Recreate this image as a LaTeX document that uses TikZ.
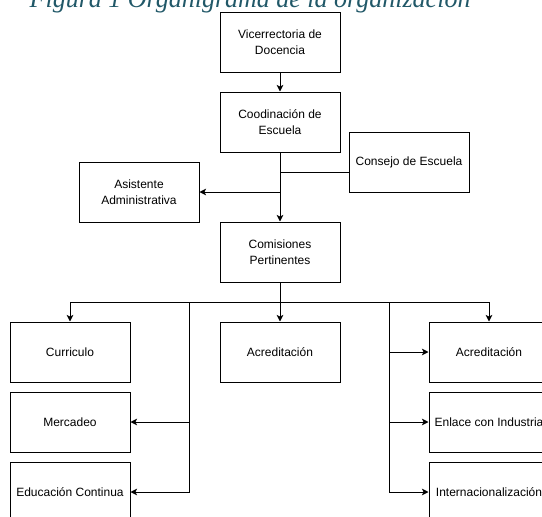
\documentclass[tikz,border=0pt]{standalone}
\usepackage{fontspec}
\setmainfont{Liberation Sans}
\newfontfamily\titlefont{Liberation Serif}
\usetikzlibrary{arrows.meta}
\definecolor{titlecol}{HTML}{215868}
\tikzset{
  box/.style={draw=black, line width=1pt, rectangle, minimum width=120pt, minimum height=60pt,
    inner sep=0pt, align=center, font=\fontsize{12}{16}\selectfont, text=black},
  conn/.style={draw=black, line width=1pt},
  arr/.style={conn, -{Stealth[length=6.5pt,width=6.5pt,inset=1.5pt]}},
}
\begin{document}
\begin{tikzpicture}[x=1pt,y=-1pt]
\clip (0,0) rectangle (542,517);
\useasboundingbox (0,0) rectangle (542,517);
\node[anchor=base west, inner sep=0pt, text=titlecol, font=\titlefont\itshape\fontsize{26}{30}\selectfont] (title) at (29.5,7.5) {Figura 1 Organigrama de la organización};
\node[box] (vice) at (280,42) {Vicerrectoria de\\Docencia};
\node[box] (cood) at (280,122) {Coodinación de\\Escuela};
\node[box] (cons) at (409,162) {Consejo de Escuela};
\node[box] (asis) at (139,192) {Asistente\\Administrativa};
\node[box] (comi) at (280,252) {Comisiones\\Pertinentes};
\node[box] (curr) at (70,352) {Curriculo};
\node[box] (merc) at (70,422) {Mercadeo};
\node[box] (educ) at (70,492) {Educación Continua};
\node[box] (acr1) at (280,352) {Acreditación};
\node[box] (acr2) at (489,352) {Acreditación};
\node[box] (enl) at (489,422) {Enlace con Industria};
\node[box] (intl) at (489,492) {Internacionalización};
\coordinate (j1) at (280,172);
\coordinate (bus) at (280,302);
\coordinate (lv) at (189.5,302);
\coordinate (rv) at (389.5,302);
\draw[arr] (vice) -- (cood);
\draw[conn] (j1) -- (j1 -| cons.west);
\draw[arr] (cood.south |- asis.east) -- (asis.east);
\draw[arr] (cood) -- (comi);
\draw[arr] (comi) -- (acr1);
\draw[arr] (bus) -| (curr.north);
\draw[arr] (bus) -| (acr2.north);
\draw[arr] (lv) |- (merc.east);
\draw[arr] (lv) |- (educ.east);
\draw[arr] (rv) |- (acr2.west);
\draw[arr] (rv) |- (enl.west);
\draw[arr] (rv) |- (intl.west);
\end{tikzpicture}
\end{document}
